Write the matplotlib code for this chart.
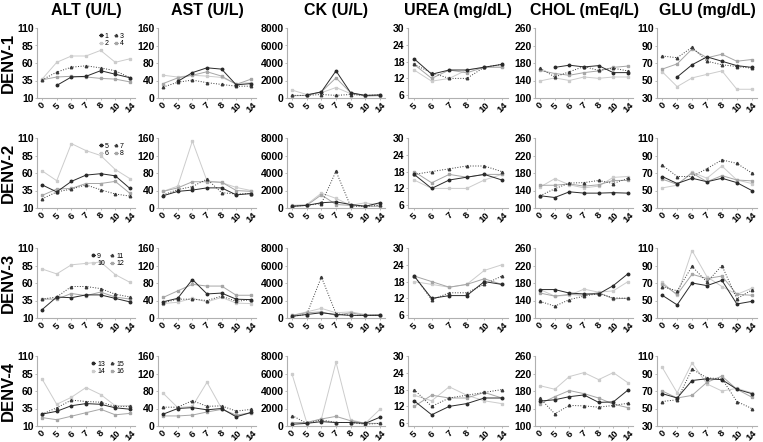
import numpy as np
import matplotlib
matplotlib.use("Agg")
import matplotlib.pyplot as plt

plt.rcParams['font.family'] = ['Liberation Sans', 'DejaVu Sans']

days = ['0', '5', '6', '7', '8', '10', '14']
urea_days = ['5', '6', '7', '8', '10', '14']
rows = ['DENV-1', 'DENV-2', 'DENV-3', 'DENV-4']
titles = ['ALT (U/L)', 'AST (U/L)', 'CK (U/L)', 'UREA (mg/dL)', 'CHOL (mEq/L)', 'GLU (mg/dL)']
n = None

# each row: [series 1, series 2, series 3, series 4]
alt = [
    [[n, 28, 40, 41, 49, 44, 39], [37, 61, 70, 70, 78, 61, 66], [36, 47, 54, 56, 53, 49, 39], [36, 40, 41, 40, 38, 37, 33]],
    [[43, 33, 48, 57, 59, 56, 38], [63, 49, 102, 92, 85, 65, 52], [23, 33, 37, 43, 36, 30, 27], [28, 37, 38, 45, 45, 48, 31]],
    [[22, 40, 39, 43, 43, 38, 33], [80, 73, 86, 88, 90, 72, 61], [37, 40, 55, 55, 52, 44, 40], [37, 37, 45, 42, 47, 40, 37]],
    [[27, 31, 39, 42, 41, 36, 34], [77, 41, 51, 65, 55, 39, 39], [27, 36, 47, 45, 44, 38, 38], [22, 19, 24, 29, 34, 26, 28]],
]
ast = [
    [[n, 38, 58, 69, 66, 30, 33], [52, 48, 52, 50, 47, 33, 35], [25, 36, 41, 35, 31, 27, 27], [33, 46, 52, 60, 50, 31, 43]],
    [[28, 38, 41, 46, 46, 30, 33], [38, 50, 153, 62, 58, 47, 40], [30, 42, 49, 66, 35, 32, 33], [38, 46, 60, 60, 59, 40, 38]],
    [[37, 45, 88, 55, 57, 43, 42], [33, 36, 45, 37, 47, 34, 33], [35, 43, 43, 40, 50, 38, 42], [47, 62, 77, 73, 73, 52, 52]],
    [[27, 40, 42, 37, 40, 21, 31], [75, 42, 45, 100, 40, 22, 30], [43, 43, 58, 45, 46, 34, 38], [23, 23, 25, 32, 38, 25, 30]],
]
ck = [
    [[n, 350, 700, 3100, 600, 300, 350], [900, 400, 600, 1200, 500, 200, 250], [300, 300, 400, 300, 400, 300, 350], [250, 300, 700, 2300, 600, 250, 300]],
    [[200, 300, 600, 700, 400, 200, 600], [300, 400, 1700, 1100, 300, 600, 300], [200, 300, 500, 4200, 200, 200, 300], [200, 300, 1500, 400, 300, 200, 200]],
    [[200, 400, 600, 400, 300, 300, 300], [300, 700, 1100, 600, 700, 400, 400], [200, 400, 4700, 500, 300, 300, 300], [300, 600, 700, 300, 600, 300, 400]],
    [[200, 300, 500, 400, 400, 300, 1000], [5900, 400, 800, 7300, 700, 300, 1900], [1200, 300, 700, 400, 400, 200, 300], [400, 400, 800, 1100, 600, 300, 300]],
]
urea = [
    [[19, 13.5, 15, 15, 16, 17], [15, 11, 12, 15, 16, 16], [17, 14, 12, 12, 16, 17], [17, 12, 15, 14, 16, 16]],
    [[17, 12, 15, 16, 17, 15], [15, 12, 12, 12, 15, 17], [17, 18, 19, 20, 20, 18], [18, 14, 17, 16, 17, 17]],
    [[20, 12, 13, 13, 18, 17], [18, 17, 16, 17, 22, 24], [20, 11.5, 14, 14, 17, 20], [20, 18, 16, 17, 19, 17]],
    [[14, 9, 12, 13, 15, 15], [16, 14, 19, 16, 14, 13], [18, 12, 15, 16, 17, 18], [12, 16, 15, 15, 17, 15]],
]
chol = [
    [[n, 170, 175, 171, 174, 158, 158], [139, 146, 140, 148, 145, 148, 148], [168, 148, 160, 172, 163, 168, 162], [163, 156, 152, 158, 162, 170, 173]],
    [[128, 124, 137, 134, 134, 135, 134], [148, 167, 153, 146, 150, 170, 172], [128, 144, 157, 158, 163, 156, 168], [152, 152, 155, 150, 153, 163, 163]],
    [[165, 165, 157, 155, 155, 174, 201], [165, 150, 152, 166, 159, 162, 183], [138, 127, 142, 150, 156, 146, 145], [157, 150, 154, 152, 158, 144, 145]],
    [[157, 160, 167, 171, 154, 155, 182], [192, 184, 213, 222, 206, 222, 199], [163, 128, 147, 146, 143, 147, 152], [151, 167, 181, 174, 164, 150, 142]],
]
glu = [
    [[n, 54, 68, 77, 72, 67, 65], [60, 43, 53, 57, 61, 40, 40], [78, 76, 88, 72, 68, 66, 64], [63, 69, 86, 76, 80, 72, 74]],
    [[66, 58, 64, 60, 64, 59, 50], [53, 56, 71, 64, 78, 62, 58], [79, 66, 66, 75, 85, 81, 70], [63, 57, 70, 60, 67, 62, 61]],
    [[56, 45, 70, 67, 73, 46, 49], [71, 56, 107, 77, 66, 57, 64], [66, 61, 89, 71, 90, 52, 62], [69, 57, 80, 75, 78, 57, 56]],
    [[67, 62, 82, 84, 83, 72, 67], [97, 68, 102, 78, 70, 73, 68], [58, 60, 95, 85, 84, 58, 50], [70, 62, 65, 80, 87, 72, 63]],
]

panels = [alt, ast, ck, urea, chol, glu]
ylims = [(10, 110), (0, 160), (0, 8000), (5, 30), (100, 260), (30, 110)]
yticks = [[10, 35, 60, 85, 110], [0, 40, 80, 120, 160], [0, 2000, 4000, 6000, 8000],
          [6, 12, 18, 24, 30], [100, 140, 180, 220, 260], [30, 50, 70, 90, 110]]

# series styles: color, linestyle, marker
styles = [('#2a2a2a', '-', 'o'), ('#cccccc', '-', 's'), ('#3a3a3a', ':', '^'), ('#a6a6a6', '-', 's')]
draw_order = [1, 3, 2, 0]

W, H = 763, 442
fig = plt.figure(figsize=(W / 100, H / 100), dpi=100)
col_left = [37, 158, 287, 408, 535, 657]
col_w = [98, 98, 98, 100, 98, 100]
row_top = [28, 138, 248, 356]
row_h = 70

for r in range(4):
    for c in range(6):
        ax = fig.add_axes([col_left[c] / W, 1 - (row_top[r] + row_h) / H, col_w[c] / W, row_h / H])
        cats = urea_days if c == 3 else days
        x = np.arange(len(cats))
        for s in draw_order:
            col, ls, mk = styles[s]
            y = np.array([np.nan if v is None else v for v in panels[c][r][s]], dtype=float)
            ax.plot(x, y, color=col, ls=ls, marker=mk, ms=1.8, lw=0.7,
                    label=str(4 * r + s + 1))
        ax.set_xlim(-0.35, len(cats) - 0.65)
        ax.set_ylim(*ylims[c])
        ax.set_yticks(yticks[c])
        ax.set_xticks(x)
        ax.set_xticklabels(cats, rotation=45, ha='center')
        for sp in ['top', 'right']:
            ax.spines[sp].set_visible(False)
        for sp in ['left', 'bottom']:
            ax.spines[sp].set_color('#b0b0b0')
            ax.spines[sp].set_linewidth(0.8)
        ax.tick_params(length=1.5, width=0.6, color='#b0b0b0', labelsize=7.5, pad=1)
        ax.tick_params(axis='x', labelsize=6.8, pad=0.5)
        for lab in ax.get_xticklabels() + ax.get_yticklabels():
            lab.set_fontweight('bold')
        if c == 0:
            h, l = ax.get_legend_handles_labels()
            order = [l.index(str(4 * r + k + 1)) for k in range(4)]
            ax.legend([h[i] for i in order], [l[i] for i in order], ncol=2, frameon=False,
                      fontsize=5, handlelength=0.5, handletextpad=0.3, columnspacing=0.8,
                      labelspacing=0.05, loc='upper right', bbox_to_anchor=(0.95, 1.02))
            fig.text(8 / W, 1 - (row_top[r] + row_h / 2) / H, rows[r], rotation=90,
                     ha='center', va='center', fontsize=12, fontweight='bold')
        if r == 0:
            fig.text((col_left[c] + col_w[c] / 2) / W, 1 - 10 / H, titles[c],
                     ha='center', va='center', fontsize=11.5, fontweight='bold')

fig.savefig('out.png', dpi=100)
